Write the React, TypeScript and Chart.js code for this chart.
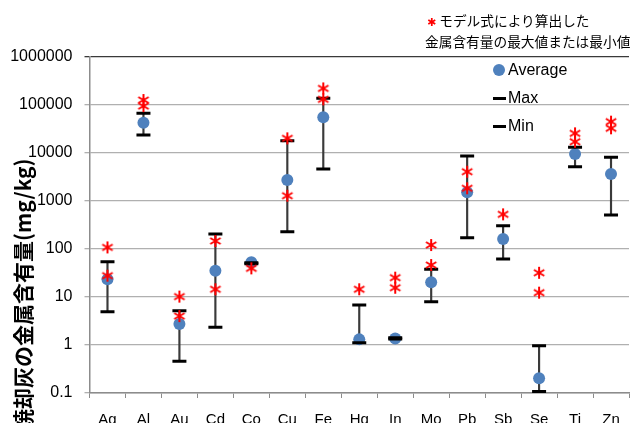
import React, { useEffect, useRef } from "react";
import { Chart, registerables } from "chart.js";

Chart.register(...registerables);

const categories = ["Ag", "Al", "Au", "Cd", "Co", "Cu", "Fe", "Hg", "In", "Mo", "Pb", "Sb", "Se", "Ti", "Zn"];
const averageValues = [23.4, 42800, 2.74, 35.4, 52.8, 2740, 55400, 1.31, 1.36, 20.2, 1517, 162, 0.202, 9530, 3650];
const maxValues = [54, 67000, 5.2, 205, 52, 18000, 138000, 6.8, 1.42, 37.7, 8660, 306, 0.97, 13100, 8130];
const minValues = [4.9, 23700, 0.46, 2.33, 49, 230, 4640, 1.12, 1.33, 8.0, 172, 62, 0.107, 5190, 510];
const modelHigh = [108, 127000, 10.2, 147, 39.5, 20200, 222000, 14.5, 25.3, 121, 4080, 528, 32, 25700, 45000];
const modelLow = [27.8, 95000, 4.0, 14.5, null, 1290, 131000, null, 15.6, 46.4, 1840, null, 12.3, 17200, 32700];
const yTickValues = [0.1, 1, 10, 100, 1000, 10000, 100000, 1000000];

const yTitle = "焼却灰の金属含有量(mg/kg)";
const noteLine1 = "モデル式により算出した";
const noteLine2 = "金属含有量の最大値または最小値";
const legendLabels = ["Average", "Max", "Min"];

const FONT = "'Liberation Sans', Arial, sans-serif";
const CJK = "'Noto Sans CJK JP', 'Noto Sans', sans-serif";

function makeStar(): HTMLCanvasElement {
  const c = document.createElement("canvas");
  c.width = 14;
  c.height = 14;
  const g = c.getContext("2d")!;
  g.strokeStyle = "#FF0000";
  g.lineWidth = 2;
  g.lineCap = "butt";
  const r = 6;
  for (let k = 0; k < 3; k++) {
    const a = Math.PI / 2 + (k * Math.PI) / 3;
    g.beginPath();
    g.moveTo(7 + r * Math.cos(a), 7 + r * Math.sin(a));
    g.lineTo(7 - r * Math.cos(a), 7 - r * Math.sin(a));
    g.stroke();
  }
  return c;
}

export default function App() {
  const ref = useRef<HTMLCanvasElement>(null);

  useEffect(() => {
    if (!ref.current) return;
    const star = makeStar();
    const chart = new Chart(ref.current, {
      type: "bar",
      data: {
        labels: categories,
        datasets: [
          {
            type: "line",
            label: "modelHigh",
            data: modelHigh as any,
            showLine: false,
            pointStyle: star as any,
            pointRadius: 7,
            order: 0,
          },
          {
            type: "line",
            label: "modelLow",
            data: modelLow as any,
            showLine: false,
            pointStyle: star as any,
            pointRadius: 7,
            order: 0,
          },
          {
            type: "line",
            label: "Max",
            data: maxValues,
            showLine: false,
            pointStyle: "line",
            pointRadius: 7,
            pointBorderWidth: 3,
            pointBorderColor: "#000",
            borderColor: "#000",
            order: 1,
          },
          {
            type: "line",
            label: "Min",
            data: minValues,
            showLine: false,
            pointStyle: "line",
            pointRadius: 7,
            pointBorderWidth: 3,
            pointBorderColor: "#000",
            borderColor: "#000",
            order: 1,
          },
          {
            type: "line",
            label: "Average",
            data: averageValues,
            showLine: false,
            pointStyle: "circle",
            pointRadius: 6,
            pointBorderWidth: 0,
            pointBackgroundColor: "#4F81BD",
            borderColor: "#4F81BD",
            order: 2,
          },
          {
            type: "bar",
            label: "range",
            data: minValues.map((m, i) => [m, maxValues[i]]) as any,
            backgroundColor: "#3a3a3a",
            barThickness: 1.5,
            order: 3,
          },
        ],
      },
      options: {
        responsive: false,
        animation: false,
        layout: { padding: { top: 57, left: 0, right: 0, bottom: 0 } },
        plugins: { legend: { display: false }, tooltip: { enabled: false } },
        scales: {
          x: {
            type: "category",
            offset: true,
            grid: { offset: true, drawOnChartArea: false, tickLength: 5, color: "#8c8c8c" },
            border: { color: "#8c8c8c", width: 1.5 },
            ticks: { font: { family: FONT, size: 15 }, color: "#000", padding: 13, maxRotation: 0, autoSkip: false },
            afterFit: (s: any) => {
              s.height = 52;
            },
          },
          y: {
            type: "logarithmic",
            min: 0.1,
            max: 1000000,
            afterBuildTicks: (s: any) => {
              s.ticks = yTickValues.map((v) => ({ value: v }));
            },
            ticks: {
              callback: (v: any) => String(v),
              font: { family: FONT, size: 16 },
              color: "#000",
              padding: 12,
            },
            grid: {
              tickLength: 5,
              color: (c: any) => (c.tick && c.tick.value === 1000000 ? "#3a3a3a" : "#b0b0b0"),
              lineWidth: 1.3,
            },
            border: { color: "#8c8c8c", width: 1.5 },
            afterFit: (s: any) => {
              s.width = 89.5;
            },
          },
        },
      },
    });
    return () => chart.destroy();
  }, []);

  return (
    <div
      style={{
        position: "fixed",
        left: 0,
        top: 0,
        width: 636,
        height: 423,
        overflow: "hidden",
        background: "#fff",
      }}
    >
      <canvas ref={ref} width={639} height={445} style={{ position: "absolute", left: 0, top: 0 }} />
      <div
        style={{
          position: "absolute",
          left: 10,
          top: 430,
          whiteSpace: "nowrap",
          fontFamily: CJK,
          fontWeight: 700,
          fontSize: 21,
          lineHeight: "24px",
          color: "#000",
          transformOrigin: "left top",
          transform: "rotate(-90deg)",
        }}
      >
        {yTitle}
      </div>
      <div
        style={{
          position: "absolute",
          left: 425,
          top: 11,
          fontFamily: CJK,
          fontSize: 13.7,
          lineHeight: "19px",
          color: "#000",
          whiteSpace: "nowrap",
        }}
      >
        <div>
          <span style={{ color: "#FF0000", fontFamily: "'DejaVu Sans', sans-serif", fontSize: 11, marginLeft: 2, marginRight: 3 }}>✱</span>
          {noteLine1}
        </div>
        <div>{noteLine2}</div>
      </div>
      <div style={{ position: "absolute", left: 493, top: 56, fontFamily: FONT, fontSize: 16, color: "#000" }}>
        {legendLabels.map((lab, i) => (
          <div key={lab} style={{ display: "flex", alignItems: "center", height: 28 }}>
            {i === 0 ? (
              <span style={{ width: 12, height: 12, borderRadius: 6, background: "#4F81BD", display: "inline-block", marginRight: 3 }} />
            ) : (
              <span style={{ width: 13, height: 3, background: "#000", display: "inline-block", marginRight: 2 }} />
            )}
            <span>{lab}</span>
          </div>
        ))}
      </div>
    </div>
  );
}
